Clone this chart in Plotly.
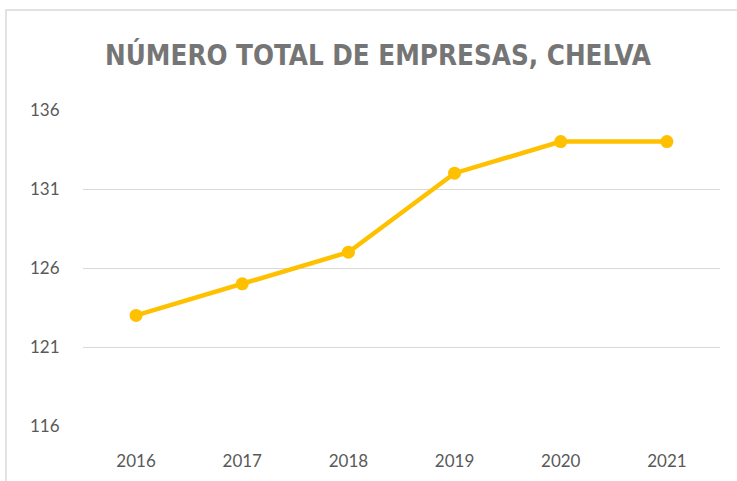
import plotly.graph_objects as go

years = ["2016", "2017", "2018", "2019", "2020", "2021"]
empresas = [123, 125, 127, 132, 134, 134]
y_ticks = [116, 121, 126, 131, 136]

W, H = 737, 481
L, R, T, B = 83, 17, 110, 55
pw, ph = W - L - R, H - T - B

def px_x(x):
    return (x - L) / pw

def px_y(y):
    return (H - B - y) / ph

fig = go.Figure()
fig.add_trace(go.Scatter(
    x=years, y=empresas, mode="lines+markers",
    line=dict(color="#FFC000", width=4.5),
    marker=dict(color="#FFC000", size=13),
    showlegend=False, hoverinfo="x+y",
))

fig.update_layout(
    width=W, height=H,
    margin=dict(l=L, r=R, t=T, b=B, autoexpand=False),
    paper_bgcolor="white", plot_bgcolor="white",
    title=dict(
        text="<b>NÚMERO TOTAL DE EMPRESAS, CHELVA</b>",
        x=px_x(378), xref="paper", xanchor="center",
        y=1 - 55 / H, yref="container", yanchor="middle",
        font=dict(family="DejaVu Sans Condensed, Liberation Sans Narrow, Roboto, sans-serif",
                  size=27.5, color="#757575"),
    ),
    xaxis=dict(
        type="category", range=[-0.5, 5.5], showgrid=False, zeroline=False,
        showline=False, ticks="outside", ticklen=20, tickcolor="rgba(0,0,0,0)",
        automargin=False,
        tickfont=dict(family="Lato", size=17, color="#595959"),
    ),
    yaxis=dict(
        range=[116, 136], tickvals=y_ticks, showgrid=True, gridcolor="#D9D9D9",
        gridwidth=1.2, zeroline=False, showline=False, ticks="outside",
        ticklen=19, tickcolor="rgba(0,0,0,0)", automargin=False,
        tickfont=dict(family="Lato", size=17, color="#595959"),
    ),
    shapes=[dict(
        type="rect", xref="paper", yref="paper",
        x0=px_x(6), x1=px_x(745), y0=px_y(490), y1=px_y(10),
        line=dict(color="#D9D9D9", width=1.5), fillcolor="rgba(0,0,0,0)", layer="below",
    )],
)

fig.write_html("out.html", config={"displayModeBar": False},
               post_script="document.body.style.margin='0px';")
